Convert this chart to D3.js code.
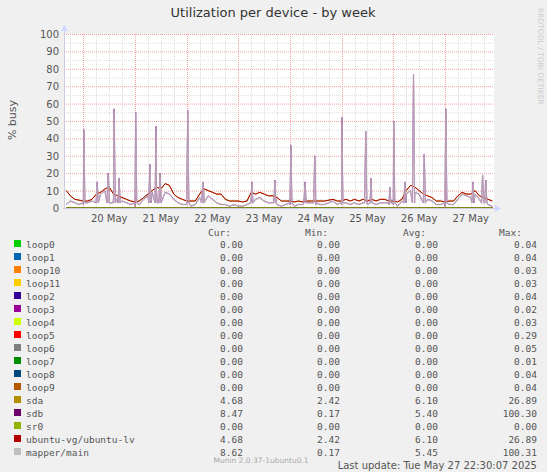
<!DOCTYPE html><html><head><meta charset="utf-8">
<script src="https://cdn.jsdelivr.net/npm/d3@7"></script>
<style>body{margin:0;background:#f0f0f0}</style></head><body>
<script>
// hours since May 19 00:00, start 14h, step 2h
const startHour = 14, stepHours = 2;
const sdaValues = [11,10,7,5,4.5,4,4,5,8,9,11,12,8,7,6,5,4,3.5,4,6,8,10,12,11,14,13,8,6,5,4,4,4,8,11,10,9,8,8,5,4,4,4,3.5,4,9,8,9,8,7,7,6,4,4,4,3.5,4,3.5,4,4,4,4,4,4.5,5,4,4,5,4,5,4,5,4,5,4,5,5,4,4,3.5,5,10,13,12,10,8,7,6,4,4,3.5,4,4,7,9,8,8,10,7,6,5,4];
const sdbBase = [3,2,4,3,2,2,3,4,6,8,10,9,5,6,4,3,2,1,2,5,7,9,10,8,9,8,5,3,2,2,1,2,6,8,7,5,3,2,2,1,2,1,1,2,6,5,6,4,3,3,2,1,2,2,1,2,2,3,3,2,2,2,3,4,2,2,3,2,3,2,3,2,3,2,3,3,2,2,1,4,8,10,9,8,6,5,4,2,2,1,2,2,5,8,7,6,8,5,3,2,1];
const spikeHours = [24.2,30.4,35.5,38.3,40.6,48.3,54.9,57.8,59.6,72.5,79.5,102.3,113,120.4,127,131.5,144.1,155.2,157.7,166.4,168.2,173.4,177.4,182.4,192.4,205,209.5,211];
const spikeValues = [45,15,20,57,17,55,25,47,20,56,15,15,16,36,15,30,52,44,17,12,50,15,77,31,57,15,19,16];
const legendNames = ["loop0","loop1","loop10","loop11","loop2","loop3","loop4","loop5","loop6","loop7","loop8","loop9","sda","sdb","sr0","ubuntu-vg/ubuntu-lv","mapper/main"];
const legendColors = ["#00cc00","#0066b3","#ff8000","#ffcc00","#330099","#990099","#ccff00","#ff0000","#808080","#008f00","#00487d","#b35a00","#b38f00","#6b006b","#8fb300","#b30000","#bebebe"];
const curVals = ["0.00","0.00","0.00","0.00","0.00","0.00","0.00","0.00","0.00","0.00","0.00","0.00","4.68","8.47","0.00","4.68","8.62"];
const minVals = ["0.00","0.00","0.00","0.00","0.00","0.00","0.00","0.00","0.00","0.00","0.00","0.00","2.42","0.17","0.00","2.42","0.17"];
const avgVals = ["0.00","0.00","0.00","0.00","0.00","0.00","0.00","0.00","0.00","0.00","0.00","0.00","6.10","5.40","0.00","6.10","5.45"];
const maxVals = ["0.04","0.04","0.03","0.03","0.04","0.02","0.03","0.29","0.05","0.01","0.04","0.04","26.89","100.30","0.00","26.89","100.31"];
const dayLabels = ["20 May","21 May","22 May","23 May","24 May","25 May","26 May","27 May"];
const yTicks = [0,10,20,30,40,50,60,70,80,90,100];

const W=547,H=472;
const svg=d3.select("body").append("svg").attr("width",W).attr("height",H).style("font-family","DejaVu Sans");
svg.append("rect").attr("width",W).attr("height",H).attr("fill","#f0f0f0");
const x=d3.scaleLinear().domain([15,214.8]).range([64,494]);
const y=d3.scaleLinear().domain([0,100]).range([208,34]);
svg.append("rect").attr("x",64).attr("y",34).attr("width",430).attr("height",174).attr("fill","#fff");
const g=svg.append("g");
for(let v=0;v<=100;v+=5){ if(v%10===0)continue;
  g.append("line").attr("x1",64).attr("x2",494).attr("y1",y(v)+.5).attr("y2",y(v)+.5).attr("stroke","#ddd").attr("stroke-dasharray","1,1");}
for(let h=18;h<=214;h+=6){ if(h%24===0)continue;
  g.append("line").attr("x1",Math.round(x(h))+.5).attr("x2",Math.round(x(h))+.5).attr("y1",34).attr("y2",208).attr("stroke","#ddd").attr("stroke-dasharray","1,1");}
yTicks.forEach(v=>{g.append("line").attr("x1",64).attr("x2",494).attr("y1",y(v)+.5).attr("y2",y(v)+.5).attr("stroke","#f3a0a0").attr("stroke-dasharray","1,1");
  svg.append("text").attr("x",59).attr("y",y(v)+4).attr("text-anchor","end").attr("font-size",10).attr("fill","#555").text(v);});
dayLabels.forEach((l,i)=>{const h=24*(i+1);
  g.append("line").attr("x1",Math.round(x(h))+.5).attr("x2",Math.round(x(h))+.5).attr("y1",34).attr("y2",208).attr("stroke","#f3a0a0").attr("stroke-dasharray","1,1");
  svg.append("text").attr("x",x(h+12)).attr("y",222).attr("text-anchor","middle").attr("font-size",10).attr("fill","#555").text(l);});
const times=sdaValues.map((_,i)=>startHour+i*stepHours);
const sda=times.map((t,i)=>[t,sdaValues[i]]).filter(d=>d[0]>=15);
let sdb=times.map((t,i)=>[t,sdbBase[i]]);
spikeHours.forEach((h,i)=>{sdb.push([h-0.5,3],[h,spikeValues[i]],[h+0.5,3]);});
sdb=sdb.filter(d=>d[0]>=15).sort((a,b)=>a[0]-b[0]);
const line=d3.line().x(d=>x(d[0])).y(d=>y(d[1]));
const zero=times.filter(t=>t>=15).map(t=>[t,0]);
legendColors.slice(0,12).forEach(c=>svg.append("path").datum(zero).attr("d",line).attr("fill","none").attr("stroke",c));
svg.append("path").datum(sda).attr("d",line).attr("fill","none").attr("stroke","#b38f00");
svg.append("path").datum(sdb).attr("d",line).attr("fill","none").attr("stroke","#6b006b");
svg.append("path").datum(zero).attr("d",line).attr("fill","none").attr("stroke","#8fb300");
svg.append("path").datum(sda).attr("d",line).attr("fill","none").attr("stroke","#b30000");
svg.append("path").datum(sdb).attr("d",line).attr("fill","none").attr("stroke","rgba(200,190,200,0.8)").attr("stroke-width",1.4);
svg.append("line").attr("x1",64.5).attr("x2",64.5).attr("y1",30).attr("y2",209).attr("stroke","#ccd");
svg.append("line").attr("x1",63).attr("x2",497).attr("y1",208.5).attr("y2",208.5).attr("stroke","#ccd");
svg.append("path").attr("d","M61,31L64.5,25L68,31Z").attr("fill","#ccd8ff");
svg.append("path").attr("d","M495,205L501,208.5L495,212Z").attr("fill","#ccd8ff");
svg.append("text").attr("x",273).attr("y",17).attr("text-anchor","middle").attr("font-size",13).attr("fill","#333").text("Utilization per device - by week");
svg.append("text").attr("transform","translate(16,120) rotate(-90)").attr("text-anchor","middle").attr("font-size",11).attr("fill","#555").text("% busy");
svg.append("text").attr("transform","translate(538,8) rotate(90)").attr("font-size",7.5).attr("fill","#ccc").text("RRDTOOL / TOBI OETIKER");
const mono="DejaVu Sans Mono";
[["Cur:",231],["Min:",328],["Avg:",426],["Max:",522]].forEach(([t,xx])=>svg.append("text").attr("x",xx).attr("y",236).attr("text-anchor","end").attr("font-family",mono).attr("font-size",9.5).attr("fill","#555").text(t));
legendNames.forEach((n,i)=>{const yy=244+i*13;
  svg.append("rect").attr("x",14).attr("y",yy-4).attr("width",7).attr("height",7).attr("fill",legendColors[i]);
  svg.append("text").attr("x",26).attr("y",yy+3.5).attr("font-family",mono).attr("font-size",9.5).attr("fill","#555").text(n);
  [[curVals,243],[minVals,340],[avgVals,438],[maxVals,537]].forEach(([a,xx])=>svg.append("text").attr("x",xx).attr("y",yy+3.5).attr("text-anchor","end").attr("font-family",mono).attr("font-size",9.5).attr("fill","#555").text(a[i]));});
svg.append("text").attr("x",537).attr("y",469).attr("text-anchor","end").attr("font-size",10).attr("fill","#555").text("Last update: Tue May 27 22:30:07 2025");
svg.append("text").attr("x",261).attr("y",463).attr("text-anchor","middle").attr("font-size",7.5).attr("fill","#aaa").text("Munin 2.0.37-1ubuntu0.1");
</script></body></html>
